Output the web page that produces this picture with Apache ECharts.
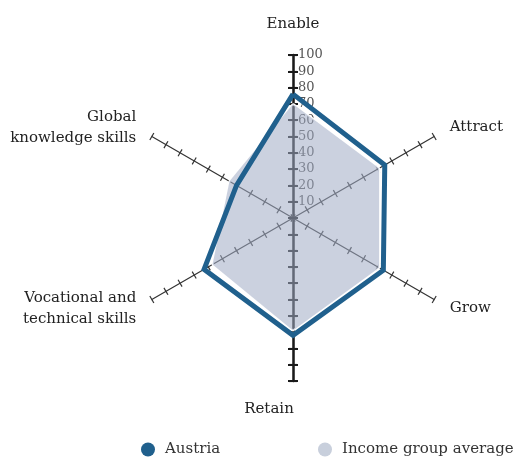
<!DOCTYPE html>
<html>
<head>
<meta charset="utf-8">
<script src="https://cdn.jsdelivr.net/npm/echarts@6/dist/echarts.min.js"></script>
<style>
  html, body { margin: 0; padding: 0; background: #fff; }
  #chart { width: 514px; height: 457px; }
</style>
</head>
<body>
<div id="chart"></div>
<script>
// indicator order goes round the radar (counter-clockwise from the top)
var indicators = ['Enable', 'Global\nknowledge skills', 'Vocational and\ntechnical skills', 'Retain', 'Grow', 'Attract'];
var austria = [76, 40, 63, 72, 64, 65];
var incomeAvg = [70, 45, 57, 69, 61, 61];

var FONT = 'DejaVu Serif';
var cx = 293, cy = 218, R = 163;

var chart = echarts.init(document.getElementById('chart'));

function nameFmt(v) {
    if (v == 'Retain') return '{r|' + v + '}';
    if (v == 'Enable') return '{e|' + v + '}';
    return v;
}

var indicatorList = indicators.map(function (n) { return { name: n, max: 100, min: 0 }; });

var legendBase = {
    top: 442,
    padding: 0,
    itemWidth: 14,
    itemHeight: 14,
    icon: 'circle',
    textStyle: { fontFamily: FONT, fontSize: 15, color: '#333', padding: [0, 0, 0, 5] }
};

var option = {
    animation: false,
    textStyle: { fontFamily: FONT },
    legend: [
        Object.assign({ left: 141, data: ['Austria'] }, legendBase),
        Object.assign({ left: 318, data: ['Income group average'] }, legendBase)
    ],
    radar: [{
        center: [cx, cy],
        radius: R,
        startAngle: 90,
        splitNumber: 10,
        indicator: indicatorList,
        shape: 'polygon',
        axisName: {
            color: '#222',
            fontFamily: FONT,
            fontSize: 15,
            lineHeight: 21,
            formatter: nameFmt,
            rich: {
                r: { fontFamily: FONT, fontSize: 15, color: '#222', padding: [0, 48, 0, 0] },
                e: { fontFamily: FONT, fontSize: 15, color: '#222', padding: [0, 0, 4, 0] }
            }
        },
        nameGap: 18,
        axisLine: { show: true, lineStyle: { color: '#333', width: 1.2 } },
        axisTick: { show: true, length: 4, lineStyle: { color: '#333', width: 1.2 } },
        axisLabel: { show: false },
        splitLine: { show: false },
        splitArea: { show: false }
    }, {
        // other half of the cross ticks
        center: [cx, cy],
        radius: R,
        startAngle: 90,
        splitNumber: 10,
        indicator: indicatorList,
        shape: 'polygon',
        axisName: { show: false },
        axisLine: { show: false },
        axisTick: { show: true, length: -4, lineStyle: { color: '#333', width: 1.2 } },
        axisLabel: { show: false },
        splitLine: { show: false },
        splitArea: { show: false }
    }],
    // vertical axis with its numbers
    grid: { left: cx, top: cy - R, width: 10, height: 2 * R },
    xAxis: { type: 'value', show: false },
    yAxis: [{
        type: 'value',
        min: -100,
        max: 100,
        interval: 10,
        position: 'left',
        z: 0,
        axisLine: { show: true, lineStyle: { color: '#1a1a1a', width: 2.5 } },
        axisTick: { show: true, length: 5, lineStyle: { color: '#1a1a1a', width: 2 } },
        axisLabel: {
            inside: true,
            margin: 5,
            fontFamily: FONT,
            fontSize: 13,
            color: '#555',
            formatter: function (v) { return v > 0 ? String(v) : ''; }
        },
        splitLine: { show: false }
    }, {
        type: 'value',
        min: -100,
        max: 100,
        interval: 10,
        position: 'left',
        z: 0,
        axisLine: { show: false },
        axisTick: { show: true, inside: true, length: 5, lineStyle: { color: '#1a1a1a', width: 2 } },
        axisLabel: { show: false },
        splitLine: { show: false }
    }],
    series: [{
        name: 'Income group average',
        type: 'radar',
        radarIndex: 0,
        z: 3,
        symbol: 'none',
        itemStyle: { color: '#c8cfdc' },
        lineStyle: { color: '#fff', width: 2 },
        areaStyle: { color: 'rgba(160,172,196,0.55)', opacity: 1 },
        data: [{ value: incomeAvg, name: 'Income group average' }]
    }, {
        name: 'Austria',
        type: 'radar',
        radarIndex: 0,
        z: 4,
        symbol: 'none',
        itemStyle: { color: '#20608d' },
        lineStyle: { color: '#20608d', width: 5, join: 'miter' },
        data: [{ value: austria, name: 'Austria' }]
    }]
};

chart.setOption(option);
</script>
</body>
</html>
